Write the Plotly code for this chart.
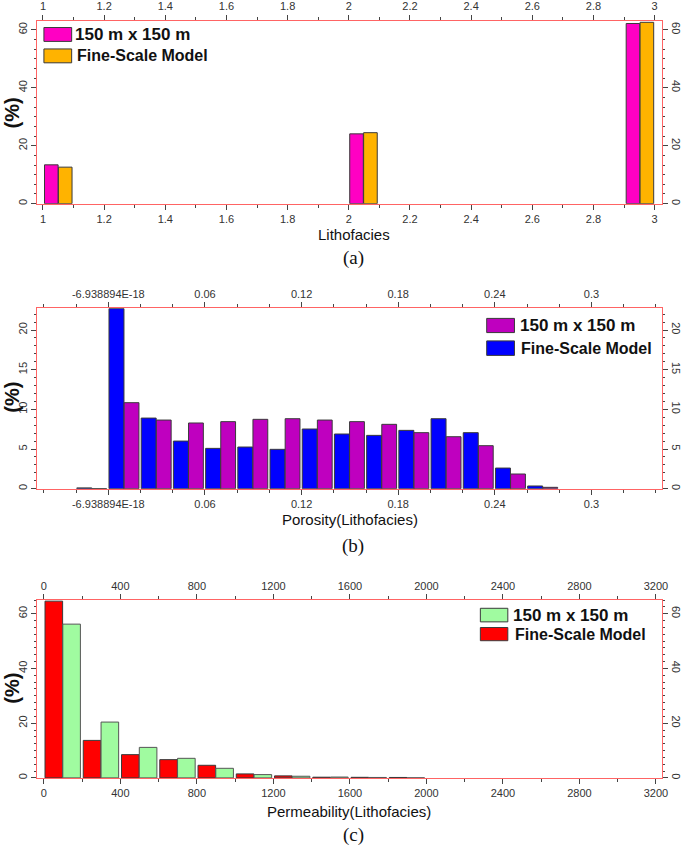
import plotly.graph_objects as go

# ---------------- data ----------------
series_names = ["150 m x 150 m", "Fine-Scale Model"]

# (a) Lithofacies
litho_bins = [1.005, 2.003, 2.907]
litho_coarse = [13.4, 24.1, 62.2]
litho_fine = [12.6, 24.5, 62.6]
litho_ticks = [1, 1.2, 1.4, 1.6, 1.8, 2, 2.2, 2.4, 2.6, 2.8, 3]
litho_ticktext = ["1", "1.2", "1.4", "1.6", "1.8", "2", "2.2", "2.4", "2.6", "2.8", "3"]

# (b) Porosity
poro_bins = [-0.02, 0.0, 0.02, 0.04, 0.06, 0.08, 0.10, 0.12, 0.14, 0.16, 0.18, 0.20, 0.22, 0.24, 0.26]
poro_fine = [0.1, 22.7, 8.9, 6.0, 5.08, 5.25, 4.96, 7.52, 6.89, 6.72, 7.35, 8.82, 7.06, 2.6, 0.34]
poro_coarse = [0.0, 10.84, 8.65, 8.28, 8.45, 8.74, 8.82, 8.65, 8.45, 8.11, 7.06, 6.55, 5.42, 1.85, 0.17]
poro_ticks = [0, 0.06, 0.12, 0.18, 0.24, 0.3]
poro_ticktext = ["-6.938894E-18", "0.06", "0.12", "0.18", "0.24", "0.3"]

# (c) Permeability
perm_bins = [0, 200, 400, 600, 800, 1000, 1200, 1400, 1600, 1800]
perm_fine = [64.6, 13.7, 8.5, 6.67, 4.6, 1.45, 0.73, 0.25, 0.2, 0.15]
perm_coarse = [56.2, 20.4, 11.15, 7.15, 3.5, 1.2, 0.6, 0.3, 0.15, 0.0]
perm_ticks = [0, 400, 800, 1200, 1600, 2000, 2400, 2800, 3200]
perm_ticktext = ["0", "400", "800", "1200", "1600", "2000", "2400", "2800", "3200"]

# ---------------- style ----------------
W, H = 685, 848
RED_LINE = "#ff6464"
TICK_COL = "#444444"
TICK_FONT = dict(family="Liberation Sans, Arial", size=11, color="#333333")
OUTLINE = dict(color="#3a3a3a", width=1)

def px(x, y):
    return x / W, 1 - y / H

xdom = [px(37.5, 0)[0], px(667.5, 0)[0]]
panels = [
    dict(top=15.0, bottom=199.3, xr=[0.981, 3.023], yr=[0, 63.1],
         xt=litho_ticks, xtt=litho_ticktext, xminor=0.1, ydt=20, yminor=10 / 3),
    dict(top=304.7, bottom=486.7, xr=[-0.0442, 0.3436], yr=[0, 22.75],
         xt=poro_ticks, xtt=poro_ticktext, xminor=0.02, ydt=5, yminor=1),
    dict(top=599.0, bottom=778.3, xr=[-35, 3230], yr=[0, 65],
         xt=perm_ticks, xtt=perm_ticktext, xminor=200, ydt=20, yminor=2.5),
]

fig = go.Figure()

# (a) bars
fig.add_trace(go.Bar(x=litho_bins, y=litho_coarse, name=series_names[0], width=0.0445, offset=0.0,
                     marker=dict(color="#ff00c3", line=OUTLINE), xaxis="x", yaxis="y", showlegend=False))
fig.add_trace(go.Bar(x=litho_bins, y=litho_fine, name=series_names[1], width=0.0445, offset=0.0455,
                     marker=dict(color="#ffb300", line=OUTLINE), xaxis="x", yaxis="y", showlegend=False))
# (b) bars
fig.add_trace(go.Bar(x=poro_bins, y=poro_fine, name=series_names[1], width=0.0093, offset=0.0004,
                     marker=dict(color="#0000ff", line=OUTLINE), xaxis="x2", yaxis="y2", showlegend=False))
fig.add_trace(go.Bar(x=poro_bins, y=poro_coarse, name=series_names[0], width=0.0092, offset=0.0098,
                     marker=dict(color="#bf00bf", line=OUTLINE), xaxis="x2", yaxis="y2", showlegend=False))
# (c) bars
fig.add_trace(go.Bar(x=perm_bins, y=perm_fine, name=series_names[1], width=92, offset=6,
                     marker=dict(color="#ff0000", line=OUTLINE), xaxis="x3", yaxis="y3", showlegend=False))
fig.add_trace(go.Bar(x=perm_bins, y=perm_coarse, name=series_names[0], width=92, offset=99,
                     marker=dict(color="#a0fba0", line=dict(color="#555555", width=1)),
                     xaxis="x3", yaxis="y3", showlegend=False))

layout = dict(width=W, height=H, margin=dict(l=0, r=0, t=0, b=0),
              paper_bgcolor="white", plot_bgcolor="white", barmode="overlay",
              showlegend=False)

for i, p in enumerate(panels):
    k = i + 1
    ko = i + 4
    ydom = [px(0, p["bottom"])[1], px(0, p["top"])[1]]
    xname = "xaxis" if k == 1 else f"xaxis{k}"
    yname = "yaxis" if k == 1 else f"yaxis{k}"
    xa = "x" if k == 1 else f"x{k}"
    ya = "y" if k == 1 else f"y{k}"
    common_x = dict(range=p["xr"], tickmode="array", tickvals=p["xt"], ticktext=p["xtt"],
                    showline=True, linecolor=RED_LINE, linewidth=1, showgrid=False, zeroline=False,
                    ticks="outside", ticklen=5, tickcolor=TICK_COL, tickwidth=1, tickfont=TICK_FONT,
                    minor=dict(tickmode="linear", tick0=0, dtick=p["xminor"], ticks="outside",
                               ticklen=3, tickcolor=TICK_COL, showgrid=False),
                    fixedrange=True)
    common_y = dict(range=p["yr"], tickmode="linear", tick0=0, dtick=p["ydt"],
                    showline=True, linecolor=RED_LINE, linewidth=1, showgrid=False, zeroline=False,
                    ticks="outside", ticklen=5, tickcolor=TICK_COL, tickwidth=1, tickfont=TICK_FONT,
                    minor=dict(tickmode="linear", tick0=0, dtick=p["yminor"], ticks="outside",
                               ticklen=2, tickcolor=TICK_COL, showgrid=False),
                    fixedrange=True)
    layout[xname] = dict(domain=xdom, anchor=ya, side="bottom", **common_x)
    layout[yname] = dict(domain=ydom, anchor=xa, side="left", tickangle=-90, **common_y)
    layout[f"xaxis{ko}"] = dict(domain=xdom, anchor=f"y{ko}", overlaying=xa, side="top", **common_x)
    layout[f"yaxis{ko}"] = dict(domain=ydom, anchor=f"x{ko}", overlaying=ya, side="right",
                                tickangle=90, **common_y)
    fig.add_trace(go.Scatter(x=[None], y=[None], xaxis=f"x{ko}", yaxis=f"y{ko}",
                             showlegend=False, hoverinfo="skip"))

fig.update_layout(**layout)

# ---------------- titles, captions ----------------
annots = []
def text(x, y, s, size, bold=False, angle=0, family="Liberation Sans, Arial", color="#111111"):
    ax, ay = px(x, y)
    annots.append(dict(x=ax, y=ay, xref="paper", yref="paper", text=f"<b>{s}</b>" if bold else s,
                       showarrow=False, textangle=angle, xanchor="center", yanchor="middle",
                       font=dict(family=family, size=size, color=color)))

text(357, 230, "Lithofacies", 15)
text(353, 518, "Porosity(Lithofacies)", 15)
text(352, 812, "Permeability(Lithofacies)", 15)
for yc in (108, 394.5, 688):
    text(12.5, yc, "(%)", 20, bold=True, angle=-90)
text(357, 254, "(a)", 19, family="Liberation Serif, Times New Roman")
text(356, 544, "(b)", 19, family="Liberation Serif, Times New Roman")
text(357, 836, "(c)", 19, family="Liberation Serif, Times New Roman")

# ---------------- custom legends ----------------
shapes = []
def legend_item(x0, y0, x1, y1, color, label, tx, size):
    a0, b0 = px(x0, y1)
    a1, b1 = px(x1, y0)
    shapes.append(dict(type="rect", xref="paper", yref="paper", x0=a0, y0=b0, x1=a1, y1=b1,
                       fillcolor=color, line=dict(color="#3a3a3a", width=1)))
    ax, ay = px(tx, (y0 + y1) / 2)
    annots.append(dict(x=ax, y=ay, xref="paper", yref="paper", text=f"<b>{label}</b>",
                       showarrow=False, xanchor="left", yanchor="middle",
                       font=dict(family="Liberation Sans, Arial", size=size, color="#111111")))

legend_item(44.3, 21.7, 72.3, 35.7, "#ff00c3", series_names[0], 74, 17)
legend_item(44.3, 43.3, 72.3, 57.3, "#ffb300", series_names[1], 76, 16)
legend_item(491, 315, 519, 329.3, "#bf00bf", series_names[0], 523, 17)
legend_item(491, 337.7, 519, 352.3, "#0000ff", series_names[1], 524, 16)
legend_item(484.6, 607.3, 512.3, 621, "#a0fba0", series_names[0], 516, 17)
legend_item(484.6, 626.7, 512.3, 640, "#ff0000", series_names[1], 518, 16)

fig.update_layout(annotations=annots, shapes=shapes)

# remove the browser's default page margin so the figure sits at the window origin
fig.write_html("out.html",
               config={"displayModeBar": False, "staticPlot": True},
               post_script="document.body.style.margin='0';document.body.style.overflow='hidden';")
